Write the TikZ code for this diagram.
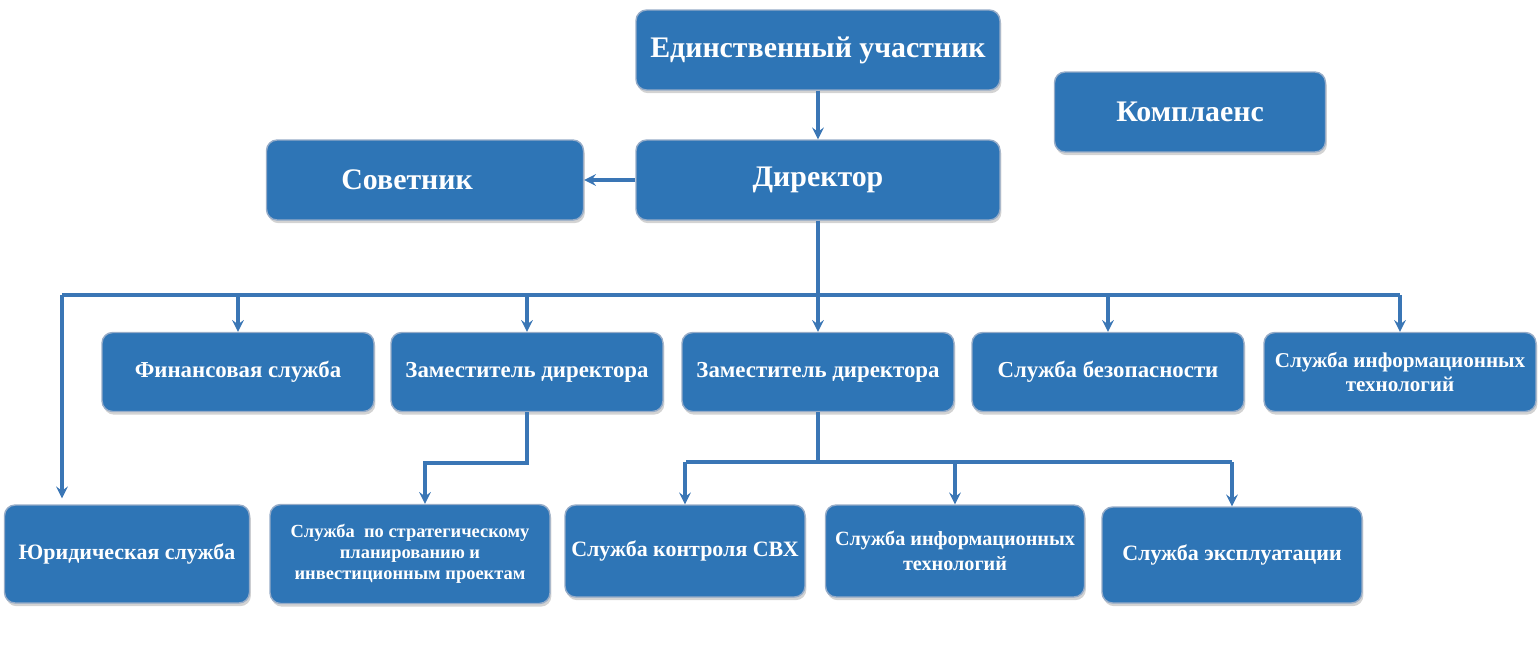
\documentclass[tikz,border=0pt]{standalone}
\usepackage{fontspec}
\setmainfont{Liberation Serif}
\usepackage{tikz}
\usetikzlibrary{arrows,calc,shadows}
\definecolor{boxblue}{RGB}{46,117,182}
\definecolor{boxrim}{RGB}{150,172,200}
\definecolor{linkblue}{RGB}{58,118,181}
\tikzset{
  unit/.style={draw=boxrim,line width=0.8pt,fill=boxblue,rounded corners=6pt,text=white,
    align=center,inner sep=2pt,
    drop shadow={shadow xshift=0.8pt,shadow yshift=-1.8pt,opacity=0.35,fill=gray}},
  top/.style={unit,minimum width=7.28cm,minimum height=1.6cm,font=\fontsize{17}{20}\selectfont\bfseries},
  mid/.style={unit,minimum width=5.44cm,minimum height=1.58cm,font=\fontsize{13}{15}\selectfont\bfseries},
  low/.style={unit,minimum height=1.9cm,font=\fontsize{12.5}{15}\selectfont\bfseries},
  link/.style={draw=linkblue,line width=1.9pt}
}

\begin{document}
\begin{tikzpicture}[x=0.02cm,y=-0.02cm]
      \useasboundingbox (0,0) rectangle (1538,650);

      \node[top] (part) at (818,50) {Единственный участник};
      \node[top,minimum width=5.42cm] (kompl) at (1190,112) {Комплаенс};
      \node[top,minimum width=6.34cm] (sov) at (425,180) {\hspace*{-1.2em}Советник};
      \node[top] (dir) at (818,180) {\raisebox{-0.2em}{Директор}};

      \node[mid] (fin) at (238,372) {Финансовая служба};
      \node[mid] (zam1) at (527,372) {Заместитель директора};
      \node[mid] (zam2) at (818,372) {Заместитель директора};
      \node[mid] (bez) at (1108,372) {Служба безопасности};
      \node[mid,font=\fontsize{12}{14}\selectfont\bfseries] (it1) at (1400,372) {Служба информационных\\технологий};

      \node[low,minimum width=4.9cm,minimum height=1.96cm] (yur) at (127,554) {Юридическая служба};
      \node[low,minimum width=5.6cm,minimum height=1.98cm,font=\fontsize{10.5}{12}\selectfont\bfseries] (strat) at (410,554)
        {Служба\ \ по стратегическому\\планированию и\\инвестиционным проектам};
      \node[low,minimum width=4.8cm,minimum height=1.84cm] (svh) at (685,551) {Служба контроля СВХ};
      \node[low,minimum width=5.18cm,minimum height=1.84cm,font=\fontsize{11.5}{14}\selectfont\bfseries] (it2) at (955,551) {Служба информационных\\технологий};
      \node[low,minimum width=5.2cm,minimum height=1.92cm] (expl) at (1232,555) {Служба эксплуатации};

      \coordinate (busL) at (62,295);
      \coordinate (busR) at (1400,295);
      \coordinate (jog) at (425,463);
      \coordinate (bus2L) at (686,462);
      \coordinate (bus2R) at (1232,462);

      \draw[link,-stealth] (part) -- (dir);
      \draw[link,-stealth] (dir.west) -- (sov.east);
      \draw[link,-stealth] (dir.south) -- (zam2.north);

      \draw[link] (busL) -- (busR);
      \draw[link,-stealth] (busL) -- ($(busL |- yur.north)+(0,-6)$);
      \foreach \n in {fin,zam1,bez,it1}
        \draw[link,-stealth] (\n.north |- busL) -- (\n.north);

      \draw[link,-stealth] (zam1.south) |- (jog) -- (jog |- strat.north);

      \draw[link] (zam2.south) -- (zam2.south |- bus2L);
      \draw[link] (bus2L) -- (bus2R);
      \foreach \n in {svh,it2,expl}
        \draw[link,-stealth] (\n.north |- bus2L) -- (\n.north);
    \end{tikzpicture}
\end{document}
